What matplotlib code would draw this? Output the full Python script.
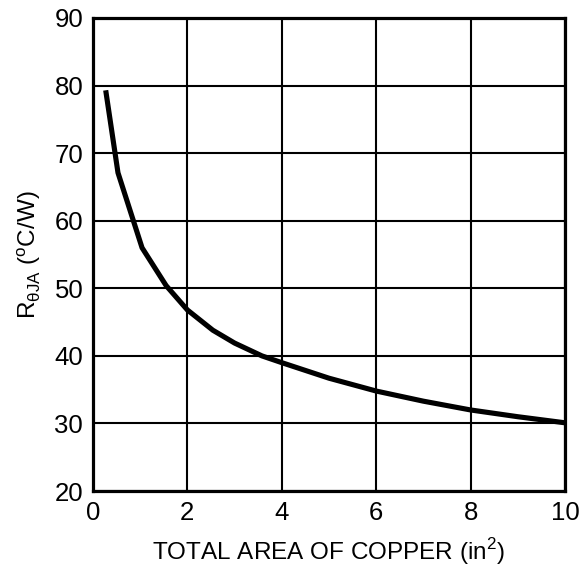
import matplotlib
matplotlib.use("Agg")
import matplotlib.pyplot as plt

# Curve
area = [0.27, 0.53, 1.04, 1.55, 2.0, 2.54, 3.0, 3.58, 4.0, 5.0, 6.0, 7.0, 8.0, 9.0, 10.0]
r_theta = [79.3, 67.1, 56.0, 50.4, 46.8, 43.8, 41.9, 40.0, 39.0, 36.7, 34.8, 33.3, 32.0, 31.0, 30.1]

x_ticks = [0, 2, 4, 6, 8, 10]
y_ticks = [20, 30, 40, 50, 60, 70, 80, 90]

plt.rcParams['font.family'] = ['Liberation Sans', 'DejaVu Sans']

fig = plt.figure(figsize=(5.81, 5.71), dpi=100)
ax = fig.add_axes([0.160, 0.140, 0.8125, 0.8285])

ax.plot(area, r_theta, color="black", linewidth=3.7, solid_capstyle="butt", zorder=3)

ax.set_xlim(0, 10)
ax.set_ylim(20, 90)
ax.set_xticks(x_ticks)
ax.set_yticks(y_ticks)
ax.grid(True, color="black", linewidth=1.5)
ax.tick_params(length=0, labelsize=18.5, pad=7)
for s in ax.spines.values():
    s.set_linewidth(2.3)

ax.set_xlabel("TOTAL AREA OF COPPER (in$^{\\mathregular{2}}$)", fontsize=17.5, labelpad=8)
ax.set_ylabel("R$_{\\mathregular{\u03b8JA}}$ ($^{\\mathregular{o}}$C/W)", fontsize=17.5, labelpad=8)

fig.savefig("out.png", dpi=100)
